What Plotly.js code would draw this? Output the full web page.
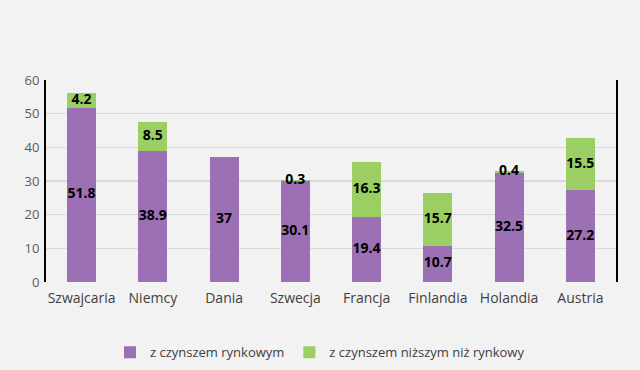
<!DOCTYPE html>
<html><head><meta charset="utf-8">
<script src="https://cdn.plot.ly/plotly-3.0.1.min.js"></script>
<style>body{margin:0;background:#f2f2f2}</style>
</head><body><div id="c" style="width:640px;height:370px"></div>
<script>
const categories = ["Szwajcaria","Niemcy","Dania","Szwecja","Francja","Finlandia","Holandia","Austria"];
const rynkowy = [51.8, 38.9, 37, 30.1, 19.4, 10.7, 32.5, 27.2];
const nizszy = [4.2, 8.5, null, 0.3, 16.3, 15.7, 0.4, 15.5];
const seriesNames = ["z czynszem rynkowym", "z czynszem niższym niż rynkowy"];
const yTicks = [0,10,20,30,40,50,60];

const purple = "#9c70b4", green = "#9bcf63";
const labelFont = {family:"Open Sans, sans-serif", size:14, color:"#000", weight:"bold"};

const traces = [
  {type:"bar", x:categories, y:rynkowy, name:seriesNames[0], marker:{color:purple}, hoverinfo:"none"},
  {type:"bar", x:categories, y:nizszy, name:seriesNames[1], marker:{color:green}, hoverinfo:"none"},
  {type:"scatter", mode:"text", x:categories, y:rynkowy.map(v=>v/2), text:rynkowy.map(v=>"<b>"+v+"</b>"),
   textfont:labelFont, showlegend:false, hoverinfo:"none", cliponaxis:false},
  {type:"scatter", mode:"text", x:categories, y:nizszy.map((v,i)=>v==null?null:rynkowy[i]+v/2),
   text:nizszy.map(v=>v==null?"":"<b>"+v+"</b>"), textfont:labelFont, showlegend:false, hoverinfo:"none", cliponaxis:false}
];

const layout = {
  width:640, height:370,
  paper_bgcolor:"#f2f2f2", plot_bgcolor:"#f2f2f2",
  margin:{l:46, r:24, t:80, b:88, autoexpand:false},
  barmode:"stack", bargap:0.59,
  font:{family:"Open Sans, sans-serif", color:"#595959", size:13},
  xaxis:{showgrid:false, zeroline:false, showline:false, ticks:"", automargin:false, ticklabelstandoff:6, tickfont:{size:14, color:"#404040"}},
  yaxis:{range:[0,60], tickvals:yTicks, gridcolor:"#d9d9d9", gridwidth:1.5, zeroline:false, automargin:false,
         showline:true, linecolor:"#000", linewidth:2, mirror:true, ticks:"", ticklabelstandoff:2, tickfont:{size:13, color:"#595959"}},
  legend:{orientation:"h", x:0.5, xanchor:"center", xref:"container", y:0.048, yanchor:"middle", yref:"container",
          font:{size:13, color:"#404040"}, traceorder:"normal"},
  showlegend:true
};
Plotly.newPlot("c", traces, layout, {staticPlot:true});
</script></body></html>
